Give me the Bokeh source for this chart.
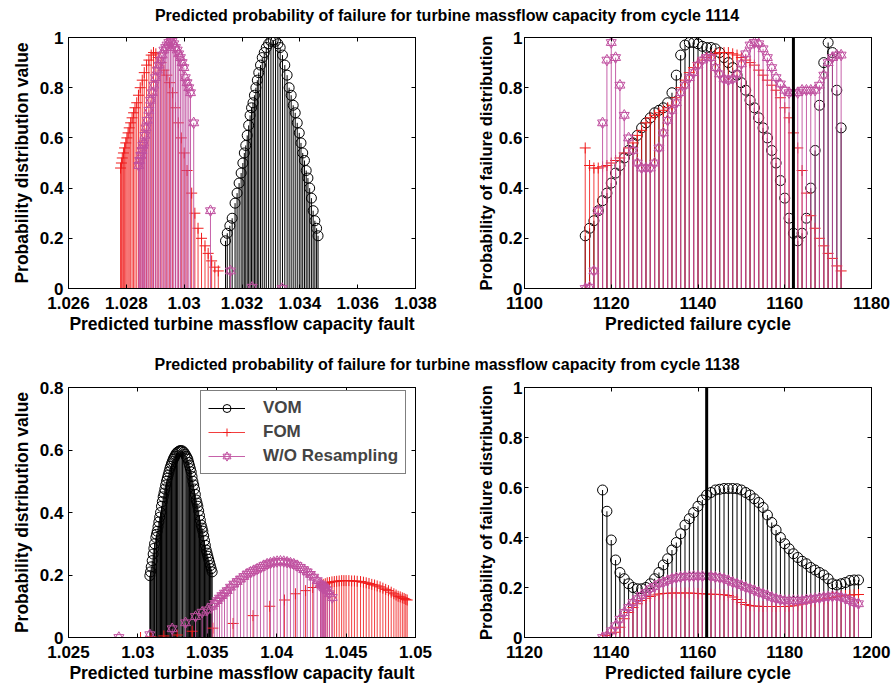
from bokeh.plotting import figure
from bokeh.models import (ColumnDataSource, Range1d, FixedTicker, LinearAxis, Span,
                          Legend, LegendItem, Div)
from bokeh.layouts import column, row
from bokeh.embed import file_html
from bokeh.resources import INLINE

# ---------------- titles / labels ----------------
TITLE_TOP = "Predicted probability of failure for turbine massflow capacity from cycle 1114"
TITLE_BOTTOM = "Predicted probability of failure for turbine massflow capacity from cycle 1138"
XLABEL_FAULT = "Predicted turbine massflow capacity fault"
XLABEL_CYCLE = "Predicted failure cycle"
YLABEL_FAULT = "Probability distribution value"
YLABEL_CYCLE = "Probability of failure distribution"
SERIES = ["VOM", "FOM", "W/O Resampling"]
FAILURE_CYCLE = 1162

# ---------------- tick values / labels ----------------
TL_XTICKS = [1.026, 1.028, 1.030, 1.032, 1.034, 1.036, 1.038]
TL_XLABELS = ["1.026", "1.028", "1.03", "1.032", "1.034", "1.036", "1.038"]
TR_XTICKS = [1100, 1120, 1140, 1160, 1180]
TR_XLABELS = ["1100", "1120", "1140", "1160", "1180"]
BL_XTICKS = [1.025, 1.030, 1.035, 1.040, 1.045, 1.050]
BL_XLABELS = ["1.025", "1.03", "1.035", "1.04", "1.045", "1.05"]
BR_XTICKS = [1120, 1140, 1160, 1180, 1200]
BR_XLABELS = ["1120", "1140", "1160", "1180", "1200"]
Y1_TICKS = [0, 0.2, 0.4, 0.6, 0.8, 1.0]
Y1_LABELS = ["0", "0.2", "0.4", "0.6", "0.8", "1"]
Y08_TICKS = [0, 0.2, 0.4, 0.6, 0.8]
Y08_LABELS = ["0", "0.2", "0.4", "0.6", "0.8"]

# ---------------- top-left: fault distribution from cycle 1114 ----------------
TL_VOM_X = [1.03143, 1.03149, 1.03158, 1.03166, 1.03176, 1.03183, 1.03190, 1.03197, 1.03203, 1.03208,
            1.03213, 1.03218, 1.03223, 1.03228, 1.03233, 1.03238, 1.03243, 1.03248, 1.03253, 1.03258,
            1.03264, 1.03270, 1.03277, 1.03284, 1.03292, 1.03300, 1.03308, 1.03316, 1.03324, 1.03332,
            1.03340, 1.03348, 1.03356, 1.03363, 1.03370, 1.03377, 1.03384, 1.03391, 1.03398, 1.03404,
            1.03410, 1.03416, 1.03422, 1.03428, 1.03434, 1.03440, 1.03446, 1.03452, 1.03458, 1.03463]
TL_VOM_Y = [0.19, 0.22, 0.25, 0.28, 0.34, 0.38, 0.42, 0.46, 0.50, 0.54,
            0.57, 0.61, 0.65, 0.69, 0.72, 0.74, 0.77, 0.80, 0.83, 0.86,
            0.89, 0.92, 0.94, 0.96, 0.975, 0.985, 0.99, 0.985, 0.975, 0.96,
            0.93, 0.89, 0.85, 0.80, 0.77, 0.73, 0.70, 0.66, 0.62, 0.58,
            0.54, 0.51, 0.47, 0.44, 0.40, 0.36, 0.31, 0.27, 0.24, 0.21]
TL_FOM_X = [1.02780, 1.02783, 1.02786, 1.02790, 1.02794, 1.02798, 1.02802, 1.02806, 1.02810, 1.02815,
            1.02820, 1.02825, 1.02830, 1.02836, 1.02842, 1.02848, 1.02855, 1.02862, 1.02870, 1.02878,
            1.02886, 1.02894, 1.02902, 1.02910, 1.02920, 1.02930, 1.02940, 1.02950, 1.02960, 1.02970,
            1.02980, 1.02990, 1.03000, 1.03010, 1.03026, 1.03037, 1.03048, 1.03060, 1.03072, 1.03083,
            1.03095, 1.03106, 1.03118]
TL_FOM_Y = [0.48, 0.50, 0.52, 0.54, 0.56, 0.58, 0.60, 0.62, 0.64, 0.66,
            0.68, 0.70, 0.72, 0.74, 0.77, 0.80, 0.83, 0.86, 0.89, 0.91,
            0.93, 0.94, 0.935, 0.92, 0.90, 0.87, 0.85, 0.82, 0.78, 0.72,
            0.66, 0.60, 0.54, 0.47, 0.38, 0.30, 0.24, 0.20, 0.17, 0.14,
            0.11, 0.085, 0.07]
TL_WO_X = [1.02843, 1.02846, 1.02850, 1.02854, 1.02857, 1.02860, 1.02864, 1.02868, 1.02872, 1.02878,
           1.02884, 1.02890, 1.02895, 1.02901, 1.02907, 1.02913, 1.02918, 1.02924, 1.02930, 1.02936,
           1.02941, 1.02947, 1.02953, 1.02958, 1.02964, 1.02970, 1.02976, 1.02981, 1.02987, 1.02993,
           1.02999, 1.03004, 1.03010, 1.03016, 1.03022, 1.03033, 1.03091, 1.03160, 1.03235, 1.03339]
TL_WO_Y = [0.49, 0.51, 0.53, 0.55, 0.57, 0.58, 0.61, 0.64, 0.67, 0.71,
           0.75, 0.78, 0.81, 0.84, 0.87, 0.89, 0.91, 0.93, 0.95, 0.96,
           0.97, 0.98, 0.99, 0.985, 0.975, 0.96, 0.95, 0.935, 0.92, 0.90,
           0.88, 0.84, 0.82, 0.80, 0.78, 0.66, 0.31, 0.07, 0.005, 0.0]

# ---------------- top-right: failure cycle from cycle 1114 ----------------
TR_CYCLES = list(range(1114, 1174))
TR_VOM = [0.21, 0.24, 0.27, 0.31, 0.35, 0.38, 0.42, 0.46, 0.49, 0.52,
          0.55, 0.58, 0.61, 0.64, 0.66, 0.68, 0.70, 0.71, 0.72, 0.74,
          0.78, 0.85, 0.93, 0.97, 0.98, 0.98, 0.975, 0.965, 0.96, 0.96,
          0.955, 0.94, 0.92, 0.90, 0.88, 0.85, 0.82, 0.79, 0.75, 0.72,
          0.68, 0.64, 0.60, 0.55, 0.50, 0.43, 0.36, 0.28, 0.22, 0.19,
          0.22, 0.28, 0.40, 0.55, 0.73, 0.90, 0.98, 0.94, 0.79, 0.64]
TR_FOM = [0.56, 0.49, 0.48, 0.48, 0.485, 0.49, 0.50, 0.51, 0.52, 0.54,
          0.56, 0.58, 0.61, 0.63, 0.66, 0.68, 0.69, 0.70, 0.71, 0.72,
          0.73, 0.76, 0.80, 0.83, 0.86, 0.88, 0.90, 0.91, 0.92, 0.93,
          0.935, 0.94, 0.94, 0.94, 0.935, 0.93, 0.92, 0.91, 0.90, 0.89,
          0.87, 0.85, 0.83, 0.81, 0.79, 0.76, 0.72, 0.68, 0.62, 0.56,
          0.47, 0.38, 0.29, 0.24, 0.20, 0.17, 0.14, 0.12, 0.09, 0.07]
TR_WO = [0.0, 0.005, 0.07, 0.31, 0.66, 0.91, 0.98, 0.92, 0.81, 0.69,
         0.60, 0.55, 0.50, 0.48, 0.48, 0.48, 0.50, 0.56, 0.62, 0.67,
         0.71, 0.74, 0.78, 0.81, 0.84, 0.86, 0.89, 0.91, 0.92, 0.92,
         0.88, 0.855, 0.835, 0.83, 0.835, 0.855, 0.895, 0.935, 0.97, 0.98,
         0.975, 0.955, 0.92, 0.88, 0.84, 0.815, 0.79, 0.78, 0.78, 0.78,
         0.79, 0.79, 0.79, 0.79, 0.81, 0.85, 0.90, 0.92, 0.93, 0.93]

# ---------------- bottom-left: fault distribution from cycle 1138 ----------------
BL_VOM_X = [1.03086, 1.03091, 1.03096, 1.03103, 1.03110, 1.03115, 1.03120, 1.03129, 1.03134, 1.03139,
            1.03145, 1.03151, 1.03157, 1.03163, 1.03170, 1.03176, 1.03182, 1.03188, 1.03194, 1.03200,
            1.03206, 1.03212, 1.03218, 1.03224, 1.03230, 1.03236, 1.03242, 1.03248, 1.03254, 1.03260,
            1.03266, 1.03272, 1.03278, 1.03286, 1.03295, 1.03303, 1.03312, 1.03321, 1.03331, 1.03340,
            1.03348, 1.03354, 1.03360, 1.03366, 1.03372, 1.03378, 1.03384, 1.03390, 1.03396, 1.03402,
            1.03408, 1.03414, 1.03420, 1.03426, 1.03432, 1.03438, 1.03444, 1.03450, 1.03456, 1.03462,
            1.03468, 1.03474, 1.03480, 1.03486, 1.03492, 1.03498, 1.03504, 1.03510, 1.03516, 1.03522,
            1.03528, 1.03535]
BL_VOM_Y = [0.198, 0.21, 0.226, 0.246, 0.267, 0.285, 0.30, 0.32, 0.33, 0.34,
            0.355, 0.37, 0.385, 0.40, 0.42, 0.435, 0.45, 0.462, 0.475, 0.488,
            0.50, 0.51, 0.52, 0.53, 0.54, 0.548, 0.556, 0.563, 0.57, 0.575,
            0.58, 0.585, 0.59, 0.593, 0.596, 0.598, 0.598, 0.597, 0.593, 0.587,
            0.58, 0.575, 0.57, 0.56, 0.55, 0.54, 0.53, 0.515, 0.50, 0.488,
            0.475, 0.458, 0.44, 0.43, 0.42, 0.405, 0.39, 0.375, 0.36, 0.35,
            0.34, 0.325, 0.31, 0.295, 0.28, 0.27, 0.26, 0.25, 0.24, 0.23,
            0.22, 0.21]
BL_FOM_X = [1.03019, 1.03095, 1.03187, 1.03283, 1.03391, 1.03540, 1.03686, 1.03830, 1.03950, 1.04056,
            1.04135, 1.04208, 1.04260, 1.04316, 1.04335, 1.04350, 1.04364, 1.04380, 1.04398, 1.04415,
            1.04432, 1.04450, 1.04468, 1.04484, 1.04500, 1.04520, 1.04540, 1.04560, 1.04580, 1.04604,
            1.04625, 1.04645, 1.04665, 1.04685, 1.04705, 1.04724, 1.04745, 1.04765, 1.04785, 1.04805,
            1.04825, 1.04844, 1.04860, 1.04875, 1.04890, 1.04905, 1.04918, 1.04930, 1.04940]
BL_FOM_Y = [0.0, 0.002, 0.005, 0.008, 0.02, 0.03, 0.045, 0.07, 0.10, 0.12,
            0.14, 0.15, 0.16, 0.165, 0.17, 0.172, 0.175, 0.176, 0.178, 0.179,
            0.18, 0.181, 0.182, 0.182, 0.182, 0.182, 0.181, 0.181, 0.18, 0.179,
            0.177, 0.175, 0.173, 0.17, 0.168, 0.165, 0.162, 0.158, 0.154, 0.15,
            0.145, 0.14, 0.136, 0.132, 0.13, 0.127, 0.125, 0.122, 0.12]
BL_WO_X = [1.02863, 1.03086, 1.03247, 1.03343, 1.03415, 1.03463, 1.03499, 1.03535, 1.03553, 1.03571,
           1.03588, 1.03605, 1.03624, 1.03643, 1.03667, 1.03691, 1.03715, 1.03739, 1.03763, 1.03787,
           1.03811, 1.03835, 1.03859, 1.03883, 1.03907, 1.03931, 1.03955, 1.03979, 1.04003, 1.04027,
           1.04051, 1.04075, 1.04099, 1.04123, 1.04147, 1.04171, 1.04195, 1.04220, 1.04243, 1.04267,
           1.04292, 1.04316, 1.04322, 1.04330, 1.04338, 1.04345, 1.04352, 1.04364, 1.04380, 1.04400]
BL_WO_Y = [0.0, 0.009, 0.028, 0.047, 0.067, 0.081, 0.088, 0.100, 0.109, 0.118,
           0.126, 0.134, 0.142, 0.150, 0.161, 0.171, 0.179, 0.187, 0.195, 0.203,
           0.209, 0.214, 0.219, 0.224, 0.230, 0.235, 0.238, 0.241, 0.243, 0.244,
           0.243, 0.241, 0.238, 0.235, 0.230, 0.224, 0.217, 0.210, 0.202, 0.193,
           0.182, 0.171, 0.168, 0.165, 0.161, 0.158, 0.155, 0.150, 0.140, 0.128]

# ---------------- bottom-right: failure cycle from cycle 1138 ----------------
BR_CYCLES = list(range(1138, 1198))
BR_VOM = [0.59, 0.505, 0.39, 0.31, 0.26, 0.235, 0.215, 0.20, 0.195, 0.195,
          0.20, 0.215, 0.235, 0.26, 0.29, 0.315, 0.35, 0.38, 0.415, 0.45,
          0.475, 0.50, 0.525, 0.55, 0.57, 0.58, 0.59, 0.593, 0.596, 0.596,
          0.596, 0.595, 0.59, 0.58, 0.57, 0.555, 0.54, 0.52, 0.49, 0.46,
          0.43, 0.40, 0.375, 0.355, 0.335, 0.32, 0.305, 0.295, 0.28, 0.27,
          0.26, 0.25, 0.235, 0.215, 0.21, 0.215, 0.22, 0.228, 0.23, 0.23]
BR_FOM = [0.0, 0.008, 0.015, 0.021, 0.041, 0.075, 0.10, 0.12, 0.135, 0.148,
          0.157, 0.164, 0.17, 0.174, 0.176, 0.177, 0.178, 0.178, 0.178, 0.178,
          0.178, 0.177, 0.176, 0.175, 0.174, 0.173, 0.173, 0.172, 0.171, 0.168,
          0.162, 0.152, 0.14, 0.132, 0.128, 0.126, 0.125, 0.124, 0.124, 0.124,
          0.124, 0.124, 0.124, 0.125, 0.127, 0.13, 0.134, 0.138, 0.142, 0.146,
          0.15, 0.154, 0.157, 0.16, 0.163, 0.166, 0.168, 0.17, 0.171, 0.172]
BR_WO = [0.0, 0.007, 0.027, 0.047, 0.073, 0.10, 0.12, 0.14, 0.155, 0.168,
         0.18, 0.195, 0.204, 0.215, 0.221, 0.228, 0.235, 0.239, 0.241, 0.244,
         0.244, 0.245, 0.245, 0.245, 0.245, 0.244, 0.241, 0.239, 0.235, 0.228,
         0.221, 0.215, 0.208, 0.201, 0.195, 0.188, 0.181, 0.175, 0.168, 0.161,
         0.155, 0.151, 0.148, 0.148, 0.148, 0.148, 0.148, 0.151, 0.153, 0.156,
         0.158, 0.161, 0.163, 0.165, 0.165, 0.161, 0.155, 0.148, 0.14, 0.135]

# ---------------- styling ----------------
FONT = "Liberation Sans"
VOM_COLOR = "#000000"
FOM_COLOR = "#f01c1c"
WO_COLOR = "#c050a0"
TICK_SIZE = "17px"
LABEL_SIZE = "17.5px"
YLABEL_CYCLE_SIZE = "16.5px"


def style_axis(ax, ticks, labels, show, standoff=5, label_standoff=5, label_size=LABEL_SIZE):
    ax.ticker = FixedTicker(ticks=ticks)
    ax.major_tick_in = 4
    ax.major_tick_out = 0
    ax.minor_tick_line_color = None
    ax.axis_line_color = "black"
    ax.major_tick_line_color = "black"
    if show:
        ax.major_label_overrides = dict(zip(ticks, labels))
        ax.major_label_text_font = FONT
        ax.major_label_text_font_style = "bold"
        ax.major_label_text_color = "black"
        ax.major_label_text_font_size = TICK_SIZE
        ax.major_label_standoff = standoff
        ax.axis_label_text_font = FONT
        ax.axis_label_text_font_style = "bold"
        ax.axis_label_text_font_size = label_size
        ax.axis_label_text_color = "black"
        ax.axis_label_standoff = label_standoff
    else:
        # tick marks only, no labels drawn
        ax.major_label_text_color = None
        ax.major_label_text_font_size = "1px"
        ax.major_label_standoff = 0


def make_panel(width, height, xr, yr, xt, xl, yt, yl, xlabel, ylabel,
               bl, br, bt, bb, ytick_standoff, ylab_standoff, ylabel_size=LABEL_SIZE):
    p = figure(width=width, height=height, x_range=Range1d(*xr), y_range=Range1d(*yr),
               output_backend="svg", toolbar_location=None,
               min_border_left=bl, min_border_right=br, min_border_top=bt, min_border_bottom=bb)
    p.xgrid.visible = False
    p.ygrid.visible = False
    p.outline_line_color = "black"
    p.outline_line_width = 1
    p.background_fill_color = "white"
    p.border_fill_color = "white"
    style_axis(p.xaxis[0], xt, xl, True, standoff=8, label_standoff=2)
    p.xaxis[0].axis_label = xlabel
    style_axis(p.yaxis[0], yt, yl, True, standoff=ytick_standoff,
               label_standoff=ylab_standoff, label_size=ylabel_size)
    p.yaxis[0].axis_label = ylabel
    top = LinearAxis()
    style_axis(top, xt, xl, False)
    p.add_layout(top, "above")
    right = LinearAxis()
    style_axis(right, yt, yl, False)
    p.add_layout(right, "right")
    return p


def add_stems(p, xs, ys, color, kind, alpha=1.0):
    src = ColumnDataSource(dict(x=xs, y=ys))
    seg = p.segment(x0="x", y0=0, x1="x", y1="y", source=src, line_color=color,
                    line_width=1, line_alpha=alpha)
    rends = [seg]
    if kind == "circle":
        rends.append(p.scatter("x", "y", source=src, marker="circle", size=10,
                               line_color=color, fill_color=None, line_width=1))
    elif kind == "cross":
        rends.append(p.scatter("x", "y", source=src, marker="cross", size=11,
                               line_color=color, line_width=1))
    else:
        rends.append(p.scatter("x", "y", source=src, marker="triangle", size=10,
                               line_color=color, fill_color=None, line_width=1))
        rends.append(p.scatter("x", "y", source=src, marker="inverted_triangle", size=10,
                               line_color=color, fill_color=None, line_width=1))
    return rends


# ---------------- panels ----------------
tl = make_panel(447, 310, (1.026, 1.038), (0, 1), TL_XTICKS, TL_XLABELS, Y1_TICKS, Y1_LABELS,
                XLABEL_FAULT, YLABEL_FAULT, 68, 32, 7, 52, 5, 5)
add_stems(tl, TL_VOM_X, TL_VOM_Y, VOM_COLOR, "circle")
add_stems(tl, TL_FOM_X, TL_FOM_Y, FOM_COLOR, "cross", 0.85)
add_stems(tl, TL_WO_X, TL_WO_Y, WO_COLOR, "hexagram", 0.9)

tr = make_panel(447, 310, (1100, 1180), (0, 1), TR_XTICKS, TR_XLABELS, Y1_TICKS, Y1_LABELS,
                XLABEL_CYCLE, YLABEL_CYCLE, 77, 23, 7, 52, 2, 1, YLABEL_CYCLE_SIZE)
add_stems(tr, TR_CYCLES, TR_VOM, VOM_COLOR, "circle")
add_stems(tr, TR_CYCLES, TR_FOM, FOM_COLOR, "cross", 0.85)
add_stems(tr, TR_CYCLES, TR_WO, WO_COLOR, "hexagram", 0.9)
tr.add_layout(Span(location=FAILURE_CYCLE, dimension="height", line_color="black", line_width=3))

bl = make_panel(447, 308, (1.025, 1.05), (0, 0.8), BL_XTICKS, BL_XLABELS, Y08_TICKS, Y08_LABELS,
                XLABEL_FAULT, YLABEL_FAULT, 68, 32, 7, 51, 5, 5)
r_vom = add_stems(bl, BL_VOM_X, BL_VOM_Y, VOM_COLOR, "circle")
r_fom = add_stems(bl, BL_FOM_X, BL_FOM_Y, FOM_COLOR, "cross", 0.85)
r_wo = add_stems(bl, BL_WO_X, BL_WO_Y, WO_COLOR, "hexagram", 0.9)

legend = Legend(items=[LegendItem(label=SERIES[0], renderers=r_vom),
                       LegendItem(label=SERIES[1], renderers=r_fom),
                       LegendItem(label=SERIES[2], renderers=r_wo)],
                location=(132, 163))
legend.label_text_font = FONT
legend.label_text_font_style = "bold"
legend.label_text_font_size = "17px"
legend.border_line_color = "black"
legend.border_line_width = 1
legend.background_fill_color = "white"
legend.background_fill_alpha = 1.0
legend.padding = 7
legend.margin = 0
legend.spacing = 4
legend.glyph_width = 37
legend.glyph_height = 20
legend.label_height = 20
legend.label_standoff = 18
bl.add_layout(legend)

br = make_panel(447, 308, (1120, 1200), (0, 1), BR_XTICKS, BR_XLABELS, Y1_TICKS, Y1_LABELS,
                XLABEL_CYCLE, YLABEL_CYCLE, 77, 23, 7, 51, 2, 1, YLABEL_CYCLE_SIZE)
add_stems(br, BR_CYCLES, BR_VOM, VOM_COLOR, "circle")
add_stems(br, BR_CYCLES, BR_FOM, FOM_COLOR, "cross", 0.85)
add_stems(br, BR_CYCLES, BR_WO, WO_COLOR, "hexagram", 0.9)
br.add_layout(Span(location=FAILURE_CYCLE, dimension="height", line_color="black", line_width=3))

TITLE_STYLE = ("width:894px;text-align:center;font-family:'Liberation Sans',Arial,sans-serif;"
               "font-weight:bold;font-size:16px;line-height:20px;color:black;")
title1 = Div(text=f'<div style="{TITLE_STYLE}padding-top:6px;">{TITLE_TOP}</div>',
             width=894, height=30, margin=0)
title2 = Div(text=f'<div style="{TITLE_STYLE}padding-top:15px;">{TITLE_BOTTOM}</div>',
             width=894, height=40, margin=0)

layout = column(title1, row(tl, tr), title2, row(bl, br))

with open("out.html", "w") as f:
    f.write(file_html(layout, INLINE))
